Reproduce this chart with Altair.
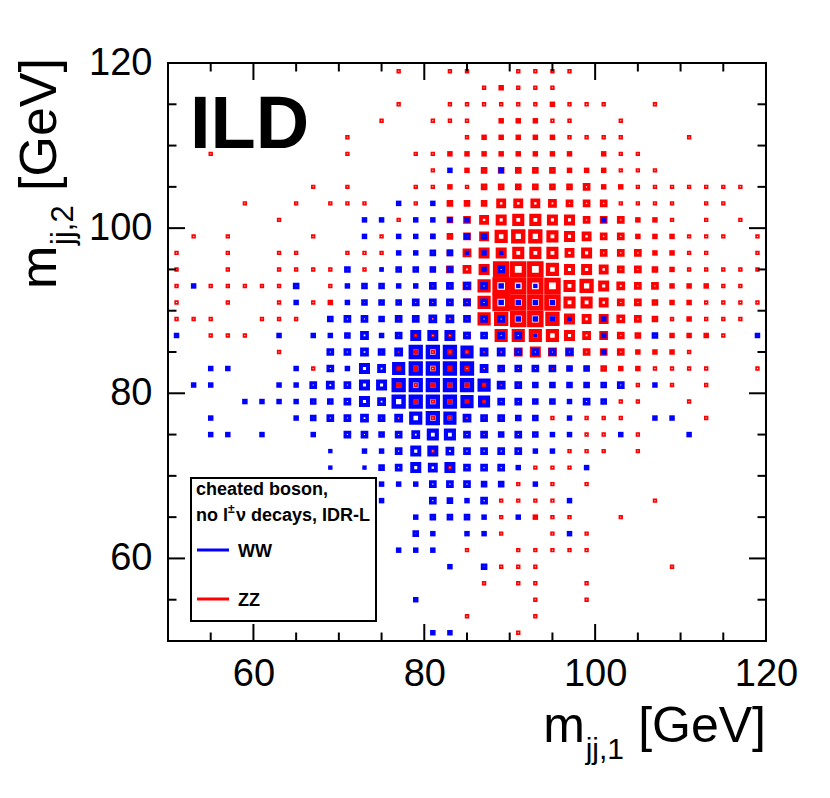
import altair as alt
import pandas as pd

# ---------------- data ----------------
X_DOMAIN = [50, 120]
Y_DOMAIN = [50, 120]
AXIS_LABELS = [60, 80, 100, 120]
MAJOR_TICKS = [60, 80, 100]
MINOR_TICKS = [55, 65, 70, 75, 85, 90, 95, 105, 110, 115]

# (m_jj,1 bin centre, m_jj,2 bin centre, box size in arbitrary units)
ZZ = [
    (77,119,4),(83,119,4),(85,119,4),(91,119,4),(93,119,4),(95,119,4),(97,119,4),
    (87,117,4),(89,117,5),(91,117,4),(93,117,4),(95,117,4),
    (77,115,4),(83,115,4),(85,115,4),(87,115,4),(89,115,4),(91,115,4),(93,115,4),(95,115,5),(97,115,4),(99,115,4),(101,115,4),(107,115,4),
    (75,113,4),(81,113,4),(83,113,4),(85,113,4),(89,113,5),(91,113,5),(93,113,5),(95,113,4),(97,113,4),(103,113,4),
    (71,111,4),(85,111,4),(87,111,5),(89,111,5),(91,111,5),(93,111,5),(95,111,5),(97,111,4),(99,111,4),(101,111,4),(103,111,4),(111,111,4),
    (55,109,4),(71,109,4),(79,109,4),(81,109,4),(83,109,5),(85,109,5),(87,109,5),(89,109,5),(91,109,5),(93,109,5),(95,109,5),(97,109,5),(101,109,5),(103,109,4),(105,109,4),
    (81,107,4),(85,107,5),(87,107,6),(89,107,6),(91,107,6),(93,107,6),(95,107,6),(97,107,5),(99,107,5),(101,107,5),(103,107,4),(105,107,4),(107,107,4),
    (67,105,4),(71,105,4),(79,105,4),(81,105,4),(83,105,5),(85,105,4),(87,105,6),(89,105,6),(91,105,6),(93,105,6),(95,105,6),(97,105,6),(99,105,7),(101,105,5),(103,105,5),(105,105,4),(107,105,4),(109,105,4),(111,105,4),(113,105,4),(115,105,4),(117,105,4),
    (59,103,4),(65,103,4),(69,103,4),(71,103,4),(73,103,4),(79,103,4),(83,103,6),(85,103,6),(87,103,6),(89,103,9),(91,103,9),(93,103,9),(95,103,8),(97,103,7),(99,103,7),(101,103,7),(103,103,4),(105,103,4),(107,103,4),(109,103,4),(113,103,4),(115,103,4),
    (63,101,4),(77,101,4),(83,101,6),(85,101,7),(87,101,9),(89,101,10),(91,101,11),(93,101,11),(95,101,10),(97,101,10),(99,101,7),(101,101,7),(103,101,7),(105,101,5),(107,101,5),(109,101,4),(113,101,4),(117,101,4),
    (53,99,4),(57,99,4),(67,99,4),(75,99,4),(81,99,5),(83,99,6),(85,99,7),(87,99,9),(89,99,12),(91,99,13),(93,99,13),(95,99,11),(97,99,10),(99,99,9),(101,99,7),(103,99,7),(105,99,5),(107,99,5),(109,99,5),(111,99,4),(113,99,4),(115,99,4),(119,99,4),
    (51,97,4),(57,97,4),(63,97,4),(65,97,4),(71,97,4),(73,97,4),(75,97,4),(79,97,4),(83,97,6),(85,97,8),(87,97,10),(89,97,10),(91,97,11),(93,97,11),(95,97,11),(97,97,9),(99,97,10),(101,97,7),(103,97,7),(105,97,7),(107,97,5),(109,97,5),(111,97,4),(113,97,4),(119,97,4),
    (51,95,4),(57,95,4),(63,95,4),(65,95,4),(67,95,4),(69,95,4),(73,95,4),(75,95,4),(81,95,5),(83,95,7),(85,95,8),(87,95,10),(89,95,15),(91,95,15),(93,95,15),(95,95,12),(97,95,10),(99,95,10),(101,95,9),(103,95,7),(105,95,7),(107,95,6),(109,95,5),(111,95,4),(113,95,4),(115,95,4),(117,95,4),(119,95,4),
    (51,93,4),(55,93,4),(57,93,4),(59,93,4),(61,93,4),(63,93,4),(69,93,4),(79,93,4),(81,93,4),(83,93,4),(85,93,8),(87,93,12),(89,93,16),(91,93,15),(93,93,15),(95,93,15),(97,93,11),(99,93,13),(101,93,10),(103,93,8),(105,93,7),(107,93,7),(109,93,5),(111,93,5),(113,93,5),(115,93,4),(117,93,4),
    (51,91,4),(57,91,4),(63,91,4),(67,91,4),(69,91,5),(75,91,4),(77,91,4),(79,91,4),(81,91,4),(83,91,4),(85,91,7),(87,91,12),(89,91,16),(91,91,15),(93,91,15),(95,91,15),(97,91,11),(99,91,11),(101,91,9),(103,91,7),(105,91,7),(107,91,6),(109,91,5),(111,91,5),(113,91,4),(115,91,4),(117,91,4),(119,91,4),
    (51,89,4),(53,89,4),(55,89,4),(61,89,4),(63,89,4),(65,89,4),(75,89,4),(77,89,5),(79,89,5),(81,89,7),(83,89,4),(85,89,4),(87,89,12),(89,89,13),(91,89,15),(93,89,15),(95,89,13),(97,89,10),(99,89,9),(101,89,9),(103,89,8),(105,89,7),(107,89,6),(109,89,4),(111,89,5),(113,89,4),(115,89,4),(117,89,4),
    (55,87,4),(57,87,4),(59,87,4),(75,87,4),(77,87,6),(79,87,6),(81,87,7),(83,87,4),(85,87,7),(87,87,4),(89,87,12),(91,87,12),(93,87,12),(95,87,12),(97,87,10),(99,87,8),(101,87,8),(103,87,7),(105,87,6),(109,87,5),(111,87,5),(113,87,5),(115,87,4),
    (63,85,4),(75,85,5),(77,85,6),(79,85,5),(81,85,4),(83,85,7),(85,85,7),(87,85,4),(89,85,4),(91,85,8),(93,85,10),(95,85,8),(97,85,8),(99,85,7),(101,85,7),(103,85,7),(105,85,5),(107,85,5),(109,85,5),(111,85,4),
    (67,83,4),(77,83,5),(79,83,5),(81,83,4),(83,83,6),(85,83,7),(87,83,7),(89,83,5),(91,83,4),(93,83,4),(95,83,5),(97,83,5),(99,83,5),(101,83,6),(103,83,5),(105,83,5),(107,83,4),(109,83,4),(111,83,4),(113,83,4),(119,83,4),
    (77,81,5),(79,81,4),(81,81,5),(83,81,5),(85,81,5),(87,81,6),(89,81,6),(91,81,4),(93,81,4),(95,81,4),(97,81,4),(99,81,5),(105,81,4),(109,81,4),(113,81,4),
    (79,79,5),(81,79,4),(83,79,5),(85,79,5),(87,79,6),(89,79,4),(91,79,4),(93,79,4),(103,79,4),(105,79,4),(111,79,4),
    (75,77,4),(77,77,4),(81,77,4),(83,77,4),(85,77,4),(87,77,4),(89,77,4),(95,77,4),(99,77,4),(101,77,4),(103,77,4),(113,77,4),
    (75,75,4),(87,75,4),(89,75,4),(99,75,4),(101,75,4),(105,75,4),
    (81,73,4),(97,73,4),(99,73,4),(101,73,4),(105,73,4),
    (83,71,4),(93,71,4),(95,71,4),(97,71,4),
    (91,69,4),(95,69,4),(99,69,4),
    (89,67,4),(91,67,4),(93,67,4),(95,67,4),(107,67,4),
    (89,65,4),(93,65,5),(95,65,4),(97,65,4),(103,65,4),
    (89,63,4),(95,63,4),(99,63,4),
    (85,61,4),(91,61,4),(93,61,4),(95,61,4),(97,61,4),(99,61,4),
    (89,59,4),(91,59,4),(93,59,4),(109,59,4),
    (87,57,4),(91,57,4),(93,57,4),(99,57,4),
    (93,55,4),(99,55,4),
    (85,53,4),(93,53,4),
    (91,51,4),
]

WW = [
    (83,107,5),(89,107,5),
    (77,103,5),(81,103,5),
    (73,101,5),(75,101,5),(79,101,5),(81,101,5),(83,101,5),(85,101,5),(101,101,5),
    (73,99,5),(77,99,5),(79,99,5),(81,99,5),(85,99,6),(87,99,6),
    (77,97,5),(79,97,5),(81,97,6),(83,97,6),(85,97,4),(87,97,5),(89,97,4),
    (71,95,6),(75,95,4),(77,95,6),(79,95,6),(81,95,6),(83,95,6),(87,95,5),(89,95,7),
    (53,93,5),(65,93,6),(71,93,5),(73,93,6),(75,93,6),(77,93,5),(79,93,5),(81,93,7),(83,93,7),(85,93,7),(87,93,7),(89,93,5),(91,93,4),(93,93,4),
    (65,91,5),(71,91,5),(73,91,6),(75,91,6),(77,91,6),(79,91,7),(81,91,7),(83,91,7),(85,91,7),(87,91,7),(89,91,5),(91,91,5),(93,91,5),(95,91,5),
    (69,89,6),(71,89,7),(73,89,7),(75,89,6),(77,89,7),(79,89,7),(81,89,8),(83,89,8),(85,89,7),(87,89,7),(89,89,7),(91,89,5),(93,89,5),(95,89,5),(97,89,4),(101,89,5),
    (51,87,5),(63,87,5),(67,87,5),(69,87,5),(71,87,6),(73,87,8),(75,87,5),(77,87,7),(79,87,10),(81,87,10),(83,87,10),(85,87,7),(87,87,7),(89,87,7),(91,87,7),(93,87,4),(101,87,5),(107,87,6),(119,87,5),
    (69,85,7),(71,85,7),(73,85,8),(75,85,7),(77,85,8),(79,85,13),(81,85,13),(83,85,13),(85,85,12),(87,85,8),(89,85,8),(91,85,7),(93,85,7),(95,85,7),(97,85,7),(101,85,5),
    (55,83,5),(57,83,5),(65,83,5),(69,83,7),(71,83,5),(73,83,10),(75,83,8),(77,83,12),(79,83,13),(81,83,13),(83,83,13),(85,83,13),(87,83,8),(89,83,7),(91,83,7),(93,83,7),(95,83,7),(97,83,6),(99,83,6),
    (53,81,5),(55,81,5),(63,81,5),(65,81,5),(67,81,7),(69,81,8),(71,81,7),(73,81,10),(75,81,10),(77,81,13),(79,81,13),(81,81,13),(83,81,13),(85,81,13),(87,81,12),(89,81,8),(91,81,7),(93,81,6),(95,81,6),(97,81,6),(99,81,6),(101,81,6),(103,81,7),(107,81,5),
    (59,79,5),(61,79,5),(63,79,5),(65,79,5),(67,79,6),(69,79,6),(71,79,7),(73,79,10),(75,79,8),(77,79,13),(79,79,13),(81,79,13),(83,79,13),(85,79,12),(87,79,11),(89,79,7),(91,79,7),(93,79,6),(95,79,6),(97,79,5),(99,79,7),(101,79,6),
    (55,77,5),(65,77,5),(67,77,6),(69,77,7),(71,77,7),(73,77,8),(75,77,7),(77,77,8),(79,77,12),(81,77,13),(83,77,12),(85,77,8),(87,77,7),(89,77,7),(91,77,6),(93,77,6),(97,77,5),(107,77,5),(109,77,5),
    (55,75,5),(57,75,5),(61,75,5),(67,75,5),(71,75,7),(73,75,7),(75,75,6),(77,75,7),(79,75,8),(81,75,11),(83,75,11),(85,75,7),(87,75,7),(89,75,6),(91,75,7),(93,75,6),(95,75,5),(97,75,5),(103,75,5),(111,75,5),
    (69,73,4),(73,73,5),(75,73,5),(77,73,7),(79,73,10),(81,73,10),(83,73,8),(85,73,7),(87,73,7),(89,73,7),(91,73,7),(93,73,5),(95,73,5),
    (69,71,4),(73,71,4),(75,71,6),(77,71,7),(79,71,10),(81,71,9),(83,71,10),(85,71,7),(87,71,7),(89,71,7),(91,71,5),(99,71,5),
    (75,69,5),(77,69,5),(79,69,5),(81,69,7),(83,69,7),(85,69,7),(87,69,6),(89,69,6),(93,69,5),
    (75,67,5),(81,67,7),(83,67,6),(85,67,5),(87,67,7),(97,67,5),
    (79,65,5),(81,65,6),(83,65,6),(85,65,6),(87,65,5),(91,65,5),
    (79,63,6),(81,63,5),(85,63,5),(87,63,5),(97,63,5),
    (77,61,5),(79,61,5),(81,61,5),
    (83,59,5),(87,59,6),
    (79,55,5),
    (81,51,5),(83,51,5),
]

PROCESSES = ["ZZ", "WW"]
COLORS = ["#ff0000", "#0000ff"]

# ---------------- chart ----------------
W, H = 598, 578
FONT = "Liberation Sans"

rows = [(x, y, c, "ZZ") for x, y, c in ZZ] + [(x, y, c, "WW") for x, y, c in WW]
df = pd.DataFrame(rows, columns=["m1", "m2", "content", "process"])

xs = alt.Scale(domain=X_DOMAIN, nice=False, zero=False)
ys = alt.Scale(domain=Y_DOMAIN, nice=False, zero=False)

axis_style = dict(
    values=AXIS_LABELS, title=None, ticks=False, tickSize=0, domain=False, grid=False,
    labelFontSize=38, labelFont=FONT, labelColor="black",
    labelFlush=False, labelOverlap=False,
)

# box outline: outer side ~1.1*content, line width grows with the box
boxes = alt.Chart(df).transform_calculate(
    sw="(datum.content <= 4 && datum.process == 'ZZ') ? 1.7 : 1.25 * sqrt(datum.content)",
).transform_calculate(
    area="pow(1.1 * datum.content - datum.sw, 2)",
).mark_square(filled=False, opacity=1).encode(
    x=alt.X("m1:Q", scale=xs, axis=alt.Axis(labelPadding=14, **axis_style)),
    y=alt.Y("m2:Q", scale=ys, axis=alt.Axis(labelPadding=16, **axis_style)),
    color=alt.Color("process:N", scale=alt.Scale(domain=PROCESSES, range=COLORS), legend=None),
    size=alt.Size("area:Q", scale=None),
    strokeWidth=alt.StrokeWidth("sw:Q", scale=None),
)


def xticks(vals, y0, y1):
    return alt.Chart(pd.DataFrame({"v": vals})).mark_rule(color="black", strokeWidth=2).encode(
        x=alt.X("v:Q", scale=xs, axis=None), y=alt.value(y0), y2=alt.value(y1))


def yticks(vals, x0, x1):
    return alt.Chart(pd.DataFrame({"v": vals})).mark_rule(color="black", strokeWidth=2).encode(
        y=alt.Y("v:Q", scale=ys, axis=None), x=alt.value(x0), x2=alt.value(x1))


MAJ, MIN = 17, 8.5
ticks = [
    xticks(MAJOR_TICKS, H, H - MAJ), xticks(MAJOR_TICKS, 0, MAJ),
    xticks(MINOR_TICKS, H, H - MIN), xticks(MINOR_TICKS, 0, MIN),
    yticks(MAJOR_TICKS, 0, MAJ), yticks(MAJOR_TICKS, W, W - MAJ),
    yticks(MINOR_TICKS, 0, MIN), yticks(MINOR_TICKS, W, W - MIN),
]


def txt(text, x, y, size, weight="normal", angle=0, align="left", color="black"):
    return alt.Chart(pd.DataFrame({"t": [text]})).mark_text(
        font=FONT, fontSize=size, fontWeight=weight, angle=angle, align=align,
        baseline="alphabetic", color=color,
    ).encode(x=alt.value(x), y=alt.value(y), text="t:N")


legend_box = alt.Chart(pd.DataFrame({"a": [0]})).mark_rect(
    fill="white", stroke="black", strokeWidth=2
).encode(x=alt.value(23), x2=alt.value(208), y=alt.value(415), y2=alt.value(558))


def legend_line(y, color):
    return alt.Chart(pd.DataFrame({"a": [0]})).mark_rule(color=color, strokeWidth=3).encode(
        x=alt.value(29), x2=alt.value(61), y=alt.value(y))


texts = [
    txt("ILD", 22, 85, 74, "bold"),
    txt("cheated boson,", 28, 432, 18, "bold"),
    txt("no l", 28, 458, 18, "bold"),
    txt("±", 60, 450, 12, "bold"),
    txt("ν decays, IDR-L", 68, 458, 18, "bold"),
    txt("WW", 70, 494, 18, "bold"),
    txt("ZZ", 70, 543, 18, "bold"),
    # x-axis title  m_{jj,1} [GeV]
    txt("[GeV]", 598, 679, 50, align="right"),
    txt("jj,1", 456, 696, 30, align="right"),
    txt("m", 417, 679, 50, align="right"),
    # y-axis title  m_{jj,2} [GeV]
    txt("m", -112, 226, 52, angle=270),
    txt("jj,2", -95, 182, 31, angle=270),
    txt("[GeV]", -112, 128, 52, angle=270),
]

chart = alt.layer(
    boxes, *ticks, legend_box,
    legend_line(487, "#0000ff"), legend_line(536, "#ff0000"),
    *texts,
).resolve_axis(
    x="independent", y="independent"
).properties(
    width=W, height=H,
    padding={"left": 160, "top": 55, "right": 50, "bottom": 130},
    autosize=alt.AutoSizeParams(type="none"),
    background="white",
).configure_view(stroke="black", strokeWidth=2)

chart.save("out.html", embed_options={"renderer": "svg", "actions": False})
